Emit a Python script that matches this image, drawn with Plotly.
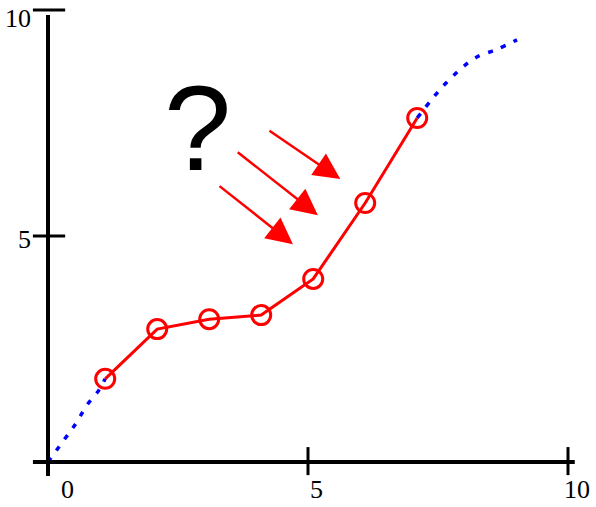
import plotly.graph_objects as go

# measured data (red, noisy samples)
meas_x = [1.1, 2.1, 3.1, 4.1, 5.1, 6.1, 7.1]
meas_y = [1.84, 2.94, 3.16, 3.25, 4.05, 5.73, 7.61]

# underlying curve (blue dotted), visible parts
curve_lo_x = [0.0, 0.31, 0.54, 0.75, 0.98, 1.1]
curve_lo_y = [0.0, 0.49, 0.86, 1.26, 1.59, 1.84]
curve_hi_x = [7.1, 7.4, 7.65, 7.94, 8.23, 8.63, 9.02]
curve_hi_y = [7.61, 8.05, 8.38, 8.70, 8.95, 9.13, 9.34]

x_ticks = [5, 10]
y_ticks = [5, 10]
x_tick_labels = ["0", "5", "10"]
y_tick_labels = ["5", "10"]

# pixel geometry (figure 596x507; page body margin removed below)
PX_X = 52.0   # px per x unit
PX_Y = 45.2   # px per y unit
X0 = 48.0     # figure pixel x of data 0
Y0 = 462.0    # figure pixel y of data 0
W, H = 596, 507

fig = go.Figure()

blue = dict(color="#0000ff", width=3.5, dash="5px,9px", shape="spline")
fig.add_trace(go.Scatter(x=curve_lo_x, y=curve_lo_y, mode="lines", line=blue,
                         hoverinfo="skip", showlegend=False))
fig.add_trace(go.Scatter(x=curve_hi_x, y=curve_hi_y, mode="lines", line=blue,
                         hoverinfo="skip", showlegend=False))
fig.add_trace(go.Scatter(x=meas_x, y=meas_y, mode="lines+markers",
                         line=dict(color="#ff0000", width=3),
                         marker=dict(symbol="circle-open", size=19, color="#ff0000",
                                     line=dict(width=3, color="#ff0000")),
                         showlegend=False))

shapes = []
# axis lines
shapes.append(dict(type="line", xref="x", yref="y", x0=0, x1=0, y0=-0.31, y1=9.89,
                   line=dict(color="black", width=4)))
shapes.append(dict(type="line", xref="x", yref="y", x0=-0.29, x1=10.13, y0=0, y1=0,
                   line=dict(color="black", width=4)))
# ticks crossing axes
for t in x_ticks:
    shapes.append(dict(type="line", xref="x", yref="y", x0=t, x1=t, y0=-0.29, y1=0.33,
                       line=dict(color="black", width=3)))
for t in y_ticks:
    shapes.append(dict(type="line", xref="x", yref="y", x0=-0.29, x1=0.33, y0=t, y1=t,
                       line=dict(color="black", width=3)))

annotations = []
lab_font = dict(family="Liberation Serif", size=26, color="black")
x_lab_shift = [0.38, 0.17, 0.18]
for lab, t, dx in zip(x_tick_labels, [0] + x_ticks, x_lab_shift):
    annotations.append(dict(x=t + dx, y=-0.6, xref="x", yref="y",
                            text=lab, showarrow=False, font=lab_font, borderpad=0,
                            xanchor="center", yanchor="middle"))
y_lab_pos = [(-0.46, -0.07), (-0.58, -0.19)]
for lab, t, (px, dy) in zip(y_tick_labels, y_ticks, y_lab_pos):
    annotations.append(dict(x=px, y=t + dy, xref="x", yref="y", text=lab, showarrow=False,
                            font=lab_font, borderpad=0, xanchor="center", yanchor="middle"))

# question mark
annotations.append(dict(x=2.88, y=7.40, xref="x", yref="y", text="?", showarrow=False,
                        font=dict(family="Liberation Sans", size=121, color="black"),
                        xanchor="center", yanchor="middle"))

# three red arrows (tip, tail)
arrows = [((5.62, 6.26), (4.23, 7.35)),
          ((5.19, 5.46), (3.62, 6.88)),
          ((4.71, 4.82), (3.27, 6.13))]
for (tx, ty), (sx, sy) in arrows:
    annotations.append(dict(x=tx, y=ty, ax=sx, ay=sy, xref="x", yref="y", axref="x", ayref="y",
                            text="", showarrow=True, arrowhead=2, arrowsize=2.1,
                            arrowwidth=2.5, arrowcolor="#ff0000", standoff=0))

fig.update_layout(
    width=W, height=H,
    margin=dict(l=0, r=0, t=0, b=0),
    paper_bgcolor="white", plot_bgcolor="white",
    xaxis=dict(range=[-X0 / PX_X, (W - X0) / PX_X], visible=False, fixedrange=True),
    yaxis=dict(range=[-(H - Y0) / PX_Y, Y0 / PX_Y], visible=False, fixedrange=True),
    shapes=shapes, annotations=annotations,
    showlegend=False,
)

fig.write_html("out.html",
               config={"displayModeBar": False, "staticPlot": True},
               post_script="document.body.style.margin='0';document.body.style.overflow='hidden';")
